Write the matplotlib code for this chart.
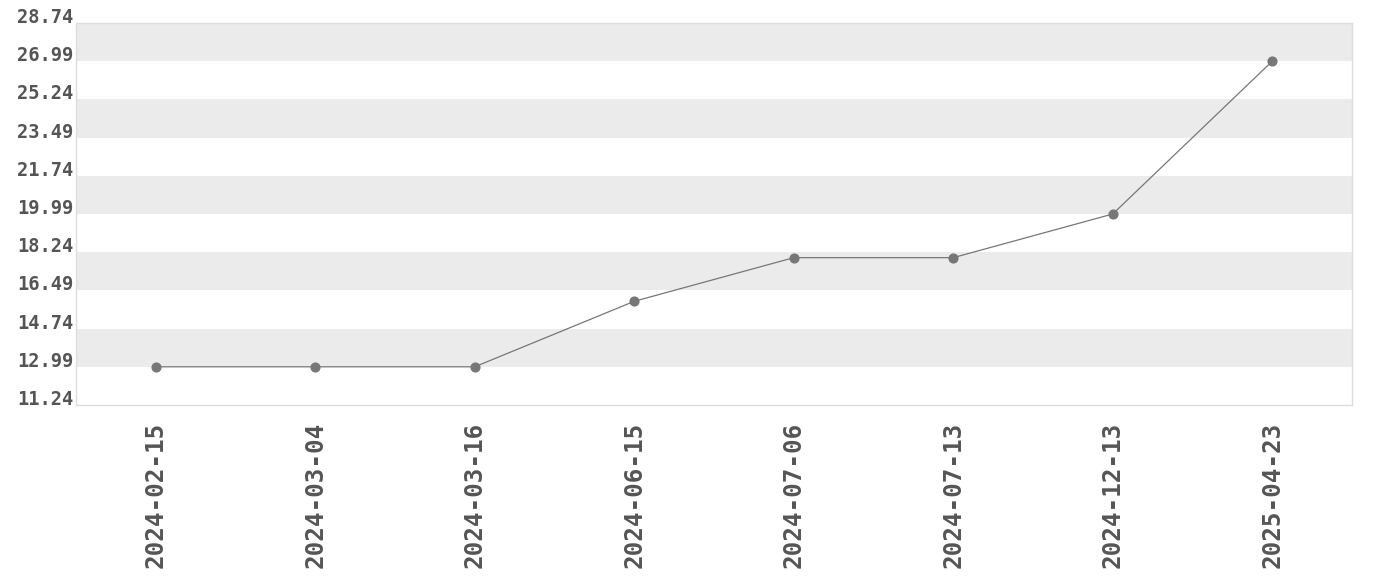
import matplotlib
matplotlib.use("Agg")
from matplotlib import pyplot as plt
import numpy as np

dates = ['2024-02-15', '2024-03-04', '2024-03-16', '2024-06-15',
         '2024-07-06', '2024-07-13', '2024-12-13', '2025-04-23']
prices = [12.99, 12.99, 12.99, 15.99, 17.99, 17.99, 19.99, 26.99]
yticks = [11.24, 12.99, 14.74, 16.49, 18.24, 19.99, 21.74, 23.49, 25.24, 26.99, 28.74]

fig = plt.figure(figsize=(13.8, 5.8), dpi=100)
ax = fig.add_axes([76 / 1380, 175 / 580, 1276 / 1380, 382 / 580])

x = np.arange(len(dates))

# grey bands every other interval
for i in range(1, len(yticks) - 1, 2):
    ax.axhspan(yticks[i], yticks[i + 1], color='#ebebeb', zorder=0, lw=0)

ax.plot(x, prices, color='#777777', lw=0.9, marker='o', markersize=6.3,
        markerfacecolor='#777777', markeredgecolor='#777777', zorder=3)

ax.set_xlim(-0.5, len(dates) - 0.5)
ax.set_ylim(yticks[0], yticks[-1])
ax.set_yticks(yticks)
ax.set_yticklabels([f'{v:.2f}' for v in yticks])
ax.set_xticks(x)
ax.set_xticklabels(dates, rotation=90)

for lbl in ax.get_yticklabels():
    lbl.set_fontfamily('DejaVu Sans Mono')
    lbl.set_fontweight('heavy')
    lbl.set_fontsize(13.5)
    lbl.set_color('#555555')
    lbl.set_verticalalignment('baseline')
for lbl in ax.get_xticklabels():
    lbl.set_fontfamily('DejaVu Sans Mono')
    lbl.set_fontweight('heavy')
    lbl.set_fontsize(17.5)
    lbl.set_color('#555555')

ax.tick_params(axis='both', length=0)
ax.tick_params(axis='y', pad=2)
ax.tick_params(axis='x', pad=12)
for s in ax.spines.values():
    s.set_color('#dddddd')
    s.set_linewidth(1)

fig.savefig('out.png', dpi=100)
